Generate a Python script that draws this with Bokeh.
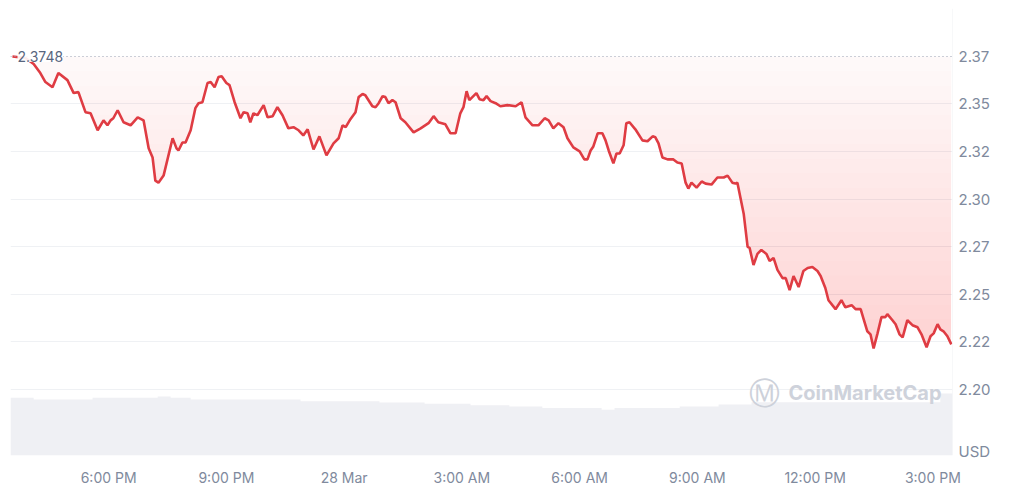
import numpy as np
from bokeh.plotting import figure
from bokeh.models import FixedTicker, Span, Label, Range1d
from bokeh.embed import file_html
from bokeh.resources import INLINE

# time in hours since 27 Mar 00:00 (local), price in USD
hours = [15.55, 15.88, 16.09, 16.26, 16.39, 16.57, 16.72, 16.95, 17.11, 17.23, 17.41, 17.54, 17.72, 17.87,
         17.97, 18.05, 18.12, 18.23, 18.38, 18.56, 18.74, 18.89, 19.02, 19.12, 19.19, 19.27, 19.40, 19.63,
         19.73, 19.78, 19.88, 19.96, 20.09, 20.21, 20.29, 20.39, 20.52, 20.60, 20.70, 20.80, 20.88, 21.00,
         21.08, 21.21, 21.36, 21.44, 21.54, 21.61, 21.69, 21.79, 21.95, 22.05, 22.18, 22.30, 22.43, 22.58,
         22.71, 22.84, 22.96, 23.07, 23.22, 23.37, 23.55, 23.73, 23.86, 23.96, 24.04, 24.16, 24.29, 24.37,
         24.47, 24.54, 24.72, 24.80, 24.88, 24.98, 25.05, 25.13, 25.23, 25.31, 25.44, 25.56, 25.77, 25.95,
         26.15, 26.28, 26.40, 26.58, 26.71, 26.84, 26.96, 27.04, 27.12, 27.19, 27.37, 27.45, 27.55, 27.63,
         27.73, 27.86, 27.98, 28.16, 28.37, 28.52, 28.62, 28.80, 28.95, 29.11, 29.21, 29.33, 29.46, 29.59,
         29.69, 29.84, 30.00, 30.12, 30.20, 30.28, 30.35, 30.46, 30.58, 30.66, 30.74, 30.86, 30.94, 31.02,
         31.12, 31.19, 31.27, 31.42, 31.60, 31.73, 31.86, 31.93, 32.01, 32.11, 32.24, 32.39, 32.49, 32.60,
         32.70, 32.77, 32.85, 32.98, 33.11, 33.21, 33.36, 33.51, 33.67, 33.77, 33.89, 33.97, 34.02, 34.18,
         34.28, 34.33, 34.43, 34.53, 34.63, 34.76, 34.84, 34.94, 35.04, 35.17, 35.25, 35.35, 35.45, 35.58,
         35.70, 35.81, 35.93, 36.06, 36.14, 36.26, 36.34, 36.52, 36.67, 36.77, 36.93, 37.03, 37.16, 37.23,
         37.33, 37.41, 37.49, 37.59, 37.69, 37.79, 37.84, 37.97, 38.05, 38.15, 38.23, 38.35, 38.48, 38.61,
         38.71, 38.84, 38.94, 39.02, 39.12, 39.19, 39.27, 39.37, 39.47]
price = [2.3748, 2.3740, 2.3709, 2.3661, 2.3614, 2.3587, 2.3661, 2.3624, 2.3556, 2.3561, 2.3456, 2.3450, 2.3361, 2.3413,
         2.3387, 2.3413, 2.3424, 2.3466, 2.3403, 2.3387, 2.3429, 2.3413, 2.3266, 2.3218, 2.3097, 2.3086, 2.3123, 2.3319,
         2.3266, 2.3255, 2.3297, 2.3297, 2.3361, 2.3477, 2.3503, 2.3508, 2.3609, 2.3614, 2.3587, 2.3640, 2.3645, 2.3609,
         2.3598, 2.3508, 2.3424, 2.3456, 2.3450, 2.3403, 2.3450, 2.3440, 2.3493, 2.3429, 2.3435, 2.3482, 2.3440, 2.3371,
         2.3377, 2.3361, 2.3334, 2.3366, 2.3260, 2.3329, 2.3229, 2.3292, 2.3319, 2.3387, 2.3377, 2.3419, 2.3456, 2.3535,
         2.3551, 2.3545, 2.3487, 2.3482, 2.3503, 2.3540, 2.3535, 2.3503, 2.3519, 2.3508, 2.3424, 2.3403, 2.3350, 2.3371,
         2.3398, 2.3435, 2.3403, 2.3392, 2.3345, 2.3345, 2.3450, 2.3482, 2.3566, 2.3519, 2.3556, 2.3524, 2.3519, 2.3540,
         2.3514, 2.3503, 2.3487, 2.3493, 2.3487, 2.3508, 2.3429, 2.3387, 2.3387, 2.3424, 2.3413, 2.3371, 2.3398, 2.3377,
         2.3319, 2.3271, 2.3250, 2.3208, 2.3208, 2.3255, 2.3276, 2.3345, 2.3345, 2.3308, 2.3255, 2.3187, 2.3239, 2.3239,
         2.3282, 2.3398, 2.3403, 2.3366, 2.3308, 2.3303, 2.3329, 2.3324, 2.3292, 2.3218, 2.3208, 2.3208, 2.3192, 2.3187,
         2.3086, 2.3055, 2.3086, 2.3060, 2.3092, 2.3081, 2.3076, 2.3113, 2.3113, 2.3123, 2.3086, 2.3081, 2.3086, 2.2923,
         2.2749, 2.2744, 2.2654, 2.2712, 2.2733, 2.2712, 2.2675, 2.2691, 2.2628, 2.2585, 2.2585, 2.2522, 2.2596, 2.2538,
         2.2622, 2.2638, 2.2643, 2.2622, 2.2596, 2.2533, 2.2469, 2.2422, 2.2469, 2.2432, 2.2443, 2.2422, 2.2422, 2.2374,
         2.2306, 2.2290, 2.2216, 2.2295, 2.2380, 2.2380, 2.2396, 2.2364, 2.2343, 2.2290, 2.2274, 2.2364, 2.2338, 2.2327,
         2.2290, 2.2222, 2.2280, 2.2295, 2.2343, 2.2316, 2.2306, 2.2280, 2.2237]

open_price = 2.3748

# volume (billions USD), step values starting at the given hours
vol_hours = [15.5, 16.09, 17.59, 19.25, 19.58, 20.09, 22.89, 24.90, 26.05, 27.22, 28.21, 29.05,
             30.56, 30.89, 32.55, 33.54, 34.38, 39.19, 39.5]
vol_values = [3.23, 3.13, 3.23, 3.30, 3.23, 3.13, 3.04, 2.96, 2.89, 2.81, 2.74, 2.65,
              2.56, 2.65, 2.74, 2.85, 2.98, 3.47, 3.47]

x_ticks = [18, 21, 24, 27, 30, 33, 36, 39]
x_labels = ["6:00 PM", "9:00 PM", "28 Mar", "3:00 AM", "6:00 AM", "9:00 AM", "12:00 PM", "3:00 PM"]
y_ticks = [2.2, 2.225, 2.25, 2.275, 2.3, 2.325, 2.35, 2.375]
y_labels = ["2.20", "2.22", "2.25", "2.27", "2.30", "2.32", "2.35", "2.37"]
unit_tick = 2.1675
unit_label = "USD"

RED = "#df3c43"
FILL_RED = "#e33b3b"
GREY_TXT = "#808a9d"
FONT = "Inter"

p = figure(frame_width=942, frame_height=447,
           x_range=Range1d(15.5, 39.5), y_range=Range1d(2.1654, 2.4),
           output_backend="svg", toolbar_location=None, y_axis_location="right",
           min_border_left=10, min_border_top=8, min_border_right=62, min_border_bottom=0)
p.outline_line_color = None
p.background_fill_color = "white"
p.border_fill_color = "white"

p.extra_y_ranges = {"vol": Range1d(0, 25)}

# volume area
p.varea_step(x=vol_hours, y1=0, y2=vol_values, step_mode="after",
             fill_color="#eff0f4", y_range_name="vol")

# gradient fill between the price line and the open price
pr = np.array(price)
lo = pr.min()
p.varea(x=hours, y1=np.minimum(pr, open_price), y2=open_price, fill_color=FILL_RED, fill_alpha=0.03)
edges = np.linspace(lo, open_price, 21)
for hi in edges[1:-1]:
    p.varea(x=hours, y1=np.minimum(pr, hi), y2=hi, fill_color=FILL_RED, fill_alpha=0.011)

p.line(hours, price, line_color=RED, line_width=2.6)

# grid
p.xgrid.visible = False
p.ygrid.ticker = FixedTicker(ticks=y_ticks[:-1])
p.ygrid.grid_line_color = "#eff1f4"
p.ygrid.grid_line_width = 1

# axes
p.xaxis.ticker = FixedTicker(ticks=x_ticks)
p.xaxis.major_label_overrides = {t: l for t, l in zip(x_ticks, x_labels)}
p.yaxis.ticker = FixedTicker(ticks=y_ticks + [unit_tick])
overrides = {t: l for t, l in zip(y_ticks, y_labels)}
overrides[unit_tick] = unit_label
p.yaxis.major_label_overrides = overrides
for ax in (p.xaxis, p.yaxis):
    ax.axis_line_color = None
    ax.major_tick_line_color = None
    ax.minor_tick_line_color = None
    ax.major_label_text_color = GREY_TXT
    ax.major_label_text_font = FONT
p.xaxis.major_label_text_font_size = "14px"
p.xaxis.major_label_standoff = 7
p.yaxis.major_label_text_font_size = "15px"
p.yaxis.major_label_standoff = 0

# right frame border
p.add_layout(Span(location=39.5, dimension="height", line_color="#eff1f4", line_width=1))

# open price dotted line + label
p.add_layout(Span(location=open_price, dimension="width", line_color="#98a1b2",
                  line_width=1, line_dash="1 3"))
p.add_layout(Label(x=7, y=open_price, x_units="screen", text=f"{open_price:.4f}",
                   text_font=FONT, text_font_size="14px", text_color="#58667e",
                   text_baseline="middle", text_align="left",
                   background_fill_color="white", background_fill_alpha=0.9))

# watermark
p.add_layout(Label(x=754, y=63, x_units="screen", y_units="screen", text="Ⓜ",
                   text_font="DejaVu Sans", text_font_size="31px", text_color="#cdd1da",
                   text_align="center", text_baseline="middle"))
p.add_layout(Label(x=778, y=63, x_units="screen", y_units="screen", text="CoinMarketCap",
                   text_font=FONT, text_font_size="20px", text_font_style="bold", text_color="#ced2db",
                   text_align="left", text_baseline="middle"))

open("out.html", "w").write(file_html(p, INLINE))
